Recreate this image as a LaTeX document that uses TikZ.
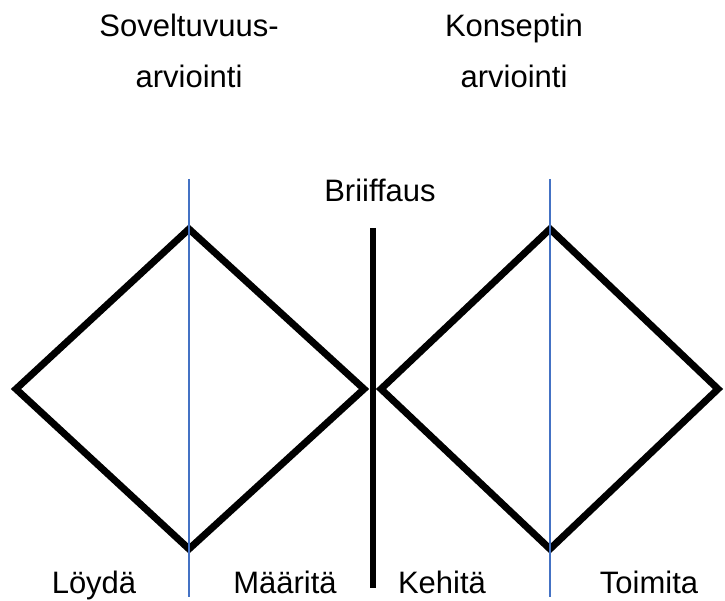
\documentclass[tikz,border=0pt]{standalone}
\usepackage{fontspec}
\setmainfont{Liberation Sans}
\begin{document}
\begin{tikzpicture}[x=1pt,y=1pt,
  diam/.style={draw=black,line width=7pt,line join=miter},
  divider/.style={draw=black,line width=6pt},
  axis/.style={draw={rgb,255:red,68;green,114;blue,196},line width=1.2pt},
  lbl/.style={anchor=base,inner sep=0pt,font=\fontsize{31}{37}\selectfont}]
\useasboundingbox (0,0) rectangle (725,600);
% left diamond
\coordinate (L1) at (16,211);
\coordinate (T1) at (189,371);
\coordinate (R1) at (364,211);
\coordinate (B1) at (189,51);
% right diamond
\coordinate (L2) at (381,211);
\coordinate (T2) at (550,371);
\coordinate (R2) at (718,211);
\coordinate (B2) at (550,51);
\draw[diam] (L1) -- (T1) -- (R1) -- (B1) -- cycle;
\draw[diam] (L2) -- (T2) -- (R2) -- (B2) -- cycle;
% blue axes
\coordinate (a1t) at (189,421);
\coordinate (a1b) at (189,3);
\coordinate (a2t) at (550,421);
\coordinate (a2b) at (550,3);
\draw[axis] (a1t) -- (a1b);
\draw[axis] (a2t) -- (a2b);
% divider
\coordinate (dt) at (372.5,372);
\coordinate (db) at (372.5,12);
\draw[divider] (dt) -- (db);
% labels
\node[lbl] (s1) at (189,563) {Soveltuvuus-};
\node[lbl] (s2) at (189,512) {arviointi};
\node[lbl] (k1) at (514,563) {Konseptin};
\node[lbl] (k2) at (514,512) {arviointi};
\node[lbl] (br) at (380,398) {Briiffaus};
\node[lbl] (lo) at (94,7) {Löydä};
\node[lbl] (ma) at (285,7) {Määritä};
\node[lbl] (ke) at (442,7) {Kehitä};
\node[lbl] (to) at (649,7) {Toimita};
\end{tikzpicture}
\end{document}
